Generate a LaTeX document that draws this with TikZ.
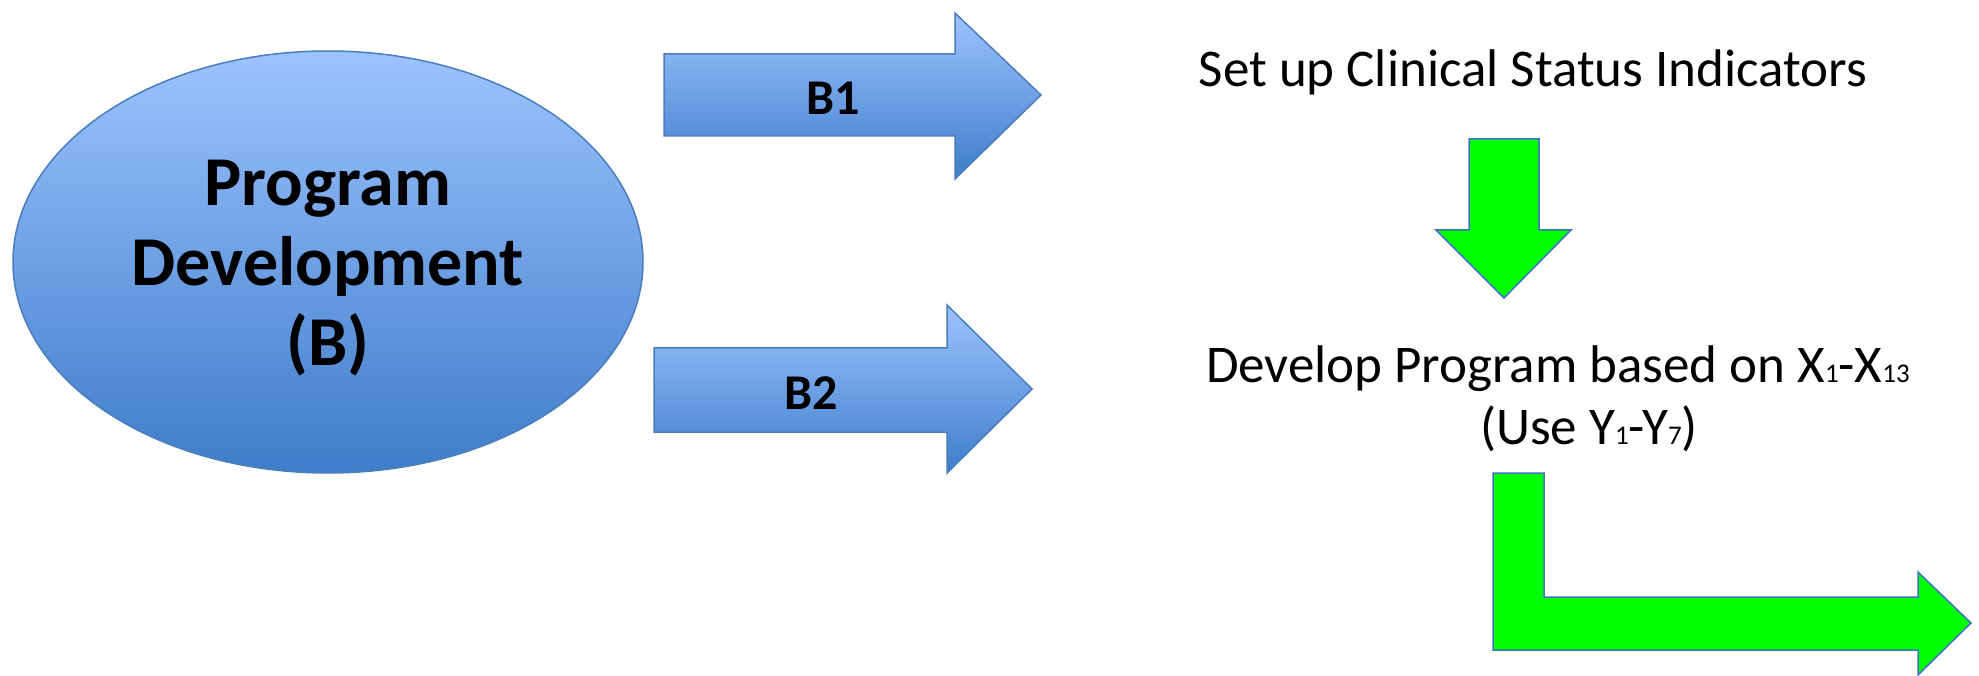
\documentclass[tikz,border=0pt]{standalone}
\usepackage{fontspec}
\setmainfont{Carlito}
\definecolor{bluetop}{RGB}{157,195,255}
\definecolor{bluebot}{RGB}{62,125,202}
\definecolor{blueline}{RGB}{74,126,187}
\definecolor{greenfill}{RGB}{0,255,0}
\definecolor{greenline}{RGB}{68,114,196}
\tikzset{
  bluefill/.style={draw=blueline, line width=1.5pt, top color=bluetop, bottom color=bluebot},
  greenshape/.style={draw=greenline, line width=1.5pt, fill=greenfill},
  boldlabel/.style={font=\fontsize{50}{58}\selectfont\bfseries},
  plainlabel/.style={font=\fontsize{53}{60}\selectfont, align=center},
}
\newcommand{\sbs}[1]{{\fontsize{27}{27}\selectfont #1}}
\begin{document}
\begin{tikzpicture}[x=1pt,y=-1pt]
\useasboundingbox (0,0) rectangle (1979,676);
% ellipse
\path[bluefill] (328,262) ellipse [x radius=315, y radius=211];
\node[font=\fontsize{70}{80}\selectfont\bfseries, align=center] (pd) at (328,268) {Program\\Development\\(B)};
% B1 arrow
\path[bluefill] (664,54) -- (955,54) -- (955,13) -- (1041,95) -- (955,179) -- (955,136) -- (664,136) -- cycle;
\node[boldlabel] (b1) at (833,98) {B1};
% B2 arrow
\path[bluefill] (654,348) -- (947,348) -- (947,305) -- (1032,389) -- (947,473) -- (947,432) -- (654,432) -- cycle;
\node[boldlabel] (b2) at (811,393) {B2};
% texts
\node[plainlabel] (csi) at (1533,72) {Set up Clinical Status Indicators};
\node[plainlabel] (dev) at (1558,369) {Develop Program based on X\sbs{1}-X\sbs{13}};
\node[plainlabel] (use) at (1589,429) {(Use Y\sbs{1}-Y\sbs{7})};
% green down arrow
\path[greenshape] (1469,139) -- (1539,139) -- (1539,230) -- (1571,230) -- (1504,298) -- (1436,230) -- (1469,230) -- cycle;
% green L arrow
\path[greenshape] (1493,473) -- (1544,473) -- (1544,597) -- (1918,597) -- (1918,572) -- (1971,623) -- (1918,675) -- (1918,650) -- (1493,650) -- cycle;
\end{tikzpicture}
\end{document}
